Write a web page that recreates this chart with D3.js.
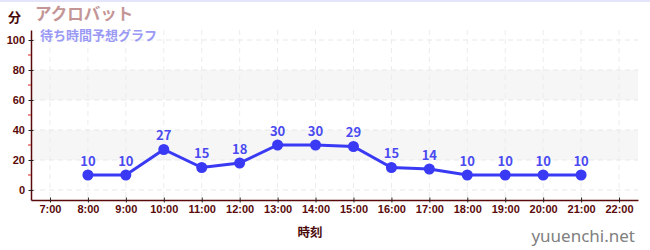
<!DOCTYPE html>
<html>
<head>
<meta charset="utf-8">
<script src="https://cdn.jsdelivr.net/npm/d3@7"></script>
<style>
  body { margin: 0; background: #fff; }
  svg { display: block; font-family: "Noto Sans CJK JP", "Noto Sans", sans-serif; }
</style>
</head>
<body>
<div id="chart"></div>
<script>
// Data
const hours = [8, 9, 10, 11, 12, 13, 14, 15, 16, 17, 18, 19, 20, 21];
const waits = [10, 10, 27, 15, 18, 30, 30, 29, 15, 14, 10, 10, 10, 10];
const xTicks = [7, 8, 9, 10, 11, 12, 13, 14, 15, 16, 17, 18, 19, 20, 21, 22];
const yTicks = [0, 20, 40, 60, 80, 100];
const yMinor = [10, 30, 50, 70, 90];
const bands = [[20, 40], [60, 80]];

const width = 650, height = 250;
const margin = { left: 31, right: 12, top: 30, bottom: 50 };

const svg = d3.select('#chart').append('svg')
  .attr('width', width)
  .attr('height', height);

// top border strip
svg.append('rect')
  .attr('x', 0).attr('y', 0)
  .attr('width', width).attr('height', 2)
  .attr('fill', '#e4e4fa');

const x = d3.scaleLinear()
  .domain([6.5, 22.5])
  .range([margin.left, width - margin.right]);

const y = d3.scaleLinear()
  .domain([-6.67, 106.67])
  .range([height - margin.bottom, margin.top]);

// shaded bands
svg.selectAll('.band')
  .data(bands)
  .enter().append('rect')
  .attr('class', 'band')
  .attr('x', margin.left)
  .attr('width', width - margin.right - margin.left)
  .attr('y', d => y(d[1]))
  .attr('height', d => y(d[0]) - y(d[1]))
  .attr('fill', '#f6f6f6');

// grid lines
svg.selectAll('.hgrid')
  .data(yTicks)
  .enter().append('line')
  .attr('x1', margin.left).attr('x2', width - margin.right)
  .attr('y1', d => y(d)).attr('y2', d => y(d))
  .attr('stroke', '#e8e8e8')
  .attr('stroke-dasharray', '5,4');

svg.selectAll('.vgrid')
  .data(xTicks)
  .enter().append('line')
  .attr('x1', d => x(d)).attr('x2', d => x(d))
  .attr('y1', margin.top).attr('y2', height - margin.bottom)
  .attr('stroke', '#ececec')
  .attr('stroke-dasharray', '5,4');

// axes
const axisColor = '#5a0a0a';

const yAxis = svg.append('g')
  .attr('transform', `translate(${margin.left},0)`)
  .call(d3.axisLeft(y).tickValues(yTicks).tickSize(5).tickSizeOuter(0));
yAxis.select('.domain').attr('stroke', axisColor).attr('stroke-width', 1.5);
yAxis.selectAll('.tick line').attr('stroke', '#222').attr('transform', 'translate(2.5,0)').attr('x2', -5);
yAxis.selectAll('text')
  .attr('fill', axisColor)
  .attr('font-size', 11)
  .attr('font-weight', 'bold')
  .attr('x', -6);

svg.selectAll('.yminor')
  .data(yMinor)
  .enter().append('line')
  .attr('x1', margin.left - 3).attr('x2', margin.left)
  .attr('y1', d => y(d)).attr('y2', d => y(d))
  .attr('stroke', '#e02020');

const xAxis = svg.append('g')
  .attr('transform', `translate(0,${height - margin.bottom})`)
  .call(d3.axisBottom(x).tickValues(xTicks).tickSize(5).tickSizeOuter(0)
    .tickFormat(d => d + ':00'));
xAxis.select('.domain').attr('stroke', axisColor).attr('stroke-width', 1.5);
xAxis.selectAll('.tick line').attr('stroke', '#222').attr('y1', -2.5).attr('y2', 2.5);
xAxis.selectAll('text')
  .attr('fill', axisColor)
  .attr('font-size', 11)
  .attr('font-weight', 'bold')
  .attr('y', 5);

// line + points
const line = d3.line()
  .x((d, i) => x(hours[i]))
  .y(d => y(d));

svg.append('path')
  .datum(waits)
  .attr('d', line)
  .attr('fill', 'none')
  .attr('stroke', '#3a3af5')
  .attr('stroke-width', 3);

svg.selectAll('.pt')
  .data(waits)
  .enter().append('circle')
  .attr('cx', (d, i) => x(hours[i]))
  .attr('cy', d => y(d))
  .attr('r', 5.5)
  .attr('fill', '#3a3af5');

svg.selectAll('.lbl')
  .data(waits)
  .enter().append('text')
  .attr('x', (d, i) => x(hours[i]))
  .attr('y', d => y(d) - 9)
  .attr('text-anchor', 'middle')
  .attr('font-size', 13)
  .attr('font-weight', 'bold')
  .attr('fill', '#4a4af0')
  .text(d => d);

// titles
svg.append('text')
  .attr('x', 8).attr('y', 22)
  .attr('font-size', 13)
  .attr('font-weight', 'bold')
  .attr('fill', '#4a0a0a')
  .text('分');

svg.append('text')
  .attr('x', 35).attr('y', 20)
  .attr('font-size', 16.5)
  .attr('font-weight', 'bold')
  .attr('fill', '#c49595')
  .text('アクロバット');

svg.append('text')
  .attr('x', 40).attr('y', 40)
  .attr('font-size', 13)
  .attr('font-weight', 'bold')
  .attr('fill', '#9a9af5')
  .text('待ち時間予想グラフ');

svg.append('text')
  .attr('x', 310).attr('y', 237)
  .attr('text-anchor', 'middle')
  .attr('font-size', 12.5)
  .attr('font-weight', 'bold')
  .attr('fill', '#4a0a0a')
  .text('時刻');

svg.append('text')
  .attr('x', 635).attr('y', 242)
  .attr('text-anchor', 'end')
  .attr('font-size', 17)
  .attr('fill', '#808080')
  .attr('font-family', 'Noto Sans, sans-serif')
  .text('yuuenchi.net');
</script>
</body>
</html>
